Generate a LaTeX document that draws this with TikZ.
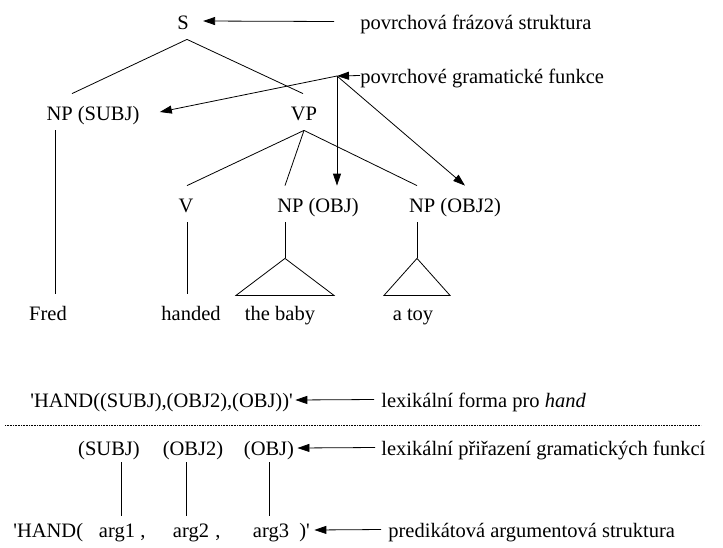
\documentclass[tikz,border=0pt]{standalone}
\usepackage{fontspec}
\setmainfont{Liberation Serif}
\usetikzlibrary{arrows.meta}

\begin{document}
\begin{tikzpicture}[x=1pt,y=-1pt,line width=0.8pt,>={Triangle[length=12pt,width=8pt]},
  font=\fontsize{20.5}{24}\selectfont,
  tree node/.style={inner sep=0pt,text height=26pt,text depth=10pt,anchor=base},
  lex node/.style={inner sep=0pt,text height=21pt,text depth=7pt,anchor=base},
  note node/.style={inner sep=0pt,text height=15pt,text depth=0pt,anchor=base west}]
  \useasboundingbox (0,0) rectangle (723,547);

  \node[tree node] (S) at (183,29) {S};
  \node[tree node] (npsubj) at (93,120) {NP (SUBJ)};
  \node[tree node] (vp) at (304,120) {VP};
  \node[tree node] (v) at (186,212) {V};
  \node[tree node] (npobj) at (318,212) {NP (OBJ)};
  \node[tree node] (npobj2) at (455,212) {NP (OBJ2)};
  \node[tree node] (fred) at (48,320) {Fred};
  \node[tree node] (handed) at (191,320) {handed};
  \node[tree node] (baby) at (280,320) {the baby};
  \node[tree node] (toy) at (413,320) {a toy};

  \node[note node] (pfs) at (360,29) {povrchová frázová struktura};
  \node[note node] (pgf) at (360,83) {povrchové gramatické funkce};
  \coordinate (gf) at (337,76);

  \draw ([xshift=4pt]S.south) -- ([xshift=-21pt]npsubj.north);
  \draw ([xshift=4pt]S.south) -- ([xshift=-1pt]vp.north);
  \draw (vp.south) -- ([xshift=1pt]v.north);
  \draw (vp.south) -- ([xshift=-33pt]npobj.north);
  \draw (vp.south) -- ([xshift=-38pt]npobj2.north);
  \draw ([xshift=-38pt]npsubj.south) -- ([xshift=7pt]fred.north);
  \draw ([xshift=1pt]v.south) -- ([xshift=-4pt]handed.north);
  \draw ([xshift=-33pt]npobj.south) -- ++(0,36) coordinate (tri1);
  \draw (tri1) -- ++(-49,37) -- ++(98,0) -- cycle;
  \draw ([xshift=-38pt]npobj2.south) -- ++(0,36) coordinate (tri2);
  \draw (tri2) -- ++(-33,37) -- ++(66,0) -- cycle;

  \draw[->] ([xshift=-26pt]pfs.west) -- ([xshift=14pt]S.east);
  \draw[->] (pgf.west) -- (gf);
  \draw[->] (gf) -- ([xshift=20pt]npsubj.east);
  \draw[->] (gf) -- (gf |- npobj.north);
  \draw[->] (gf) -- ([xshift=10pt]npobj2.north);

  \node[lex node,anchor=base west] (lexf) at (30,407) {\textquotesingle HAND((SUBJ),(OBJ2),(OBJ))\textquotesingle};
  \node[note node] (lfh) at (381,407) {lexikální forma pro \textit{hand}};
  \draw[->] ([xshift=-7pt]lfh.west) -- ([xshift=2pt]lexf.east);

  \draw[densely dotted,line width=0.6pt] (5,425) -- (701,425);

  \node[lex node] (fsubj) at (109,455) {(SUBJ)};
  \node[lex node] (fobj2) at (193,455) {(OBJ2)};
  \node[lex node] (fobj) at (269,455) {(OBJ)};
  \node[note node] (lpf) at (381,455) {lexikální přiřazení gramatických funkcí};
  \draw[->] ([xshift=-6pt]lpf.west) -- ([xshift=3pt]fobj.east);

  \node[lex node,anchor=base west] (hand) at (13,537) {\textquotesingle HAND(};
  \node[lex node] (arg1) at (117,537) {arg1};
  \node[lex node] (c1) at (143,537) {,};
  \node[lex node] (arg2) at (191,537) {arg2};
  \node[lex node] (c2) at (218,537) {,};
  \node[lex node] (arg3) at (271,537) {arg3};
  \node[lex node,anchor=base west] (close) at (299,537) {)\textquotesingle};
  \node[note node] (pas) at (388,537) {predikátová argumentová struktura};
  \draw[->] ([xshift=-7pt]pas.west) -- ([xshift=4pt]close.east);

  \draw ([xshift=4pt]arg1.north) -- ([xshift=4pt]arg1.north |- fsubj.south);
  \draw ([xshift=-5pt]arg2.north) -- ([xshift=-5pt]arg2.north |- fobj2.south);
  \draw ([xshift=-2pt]arg3.north) -- ([xshift=-2pt]arg3.north |- fobj.south);
\end{tikzpicture}
\end{document}
